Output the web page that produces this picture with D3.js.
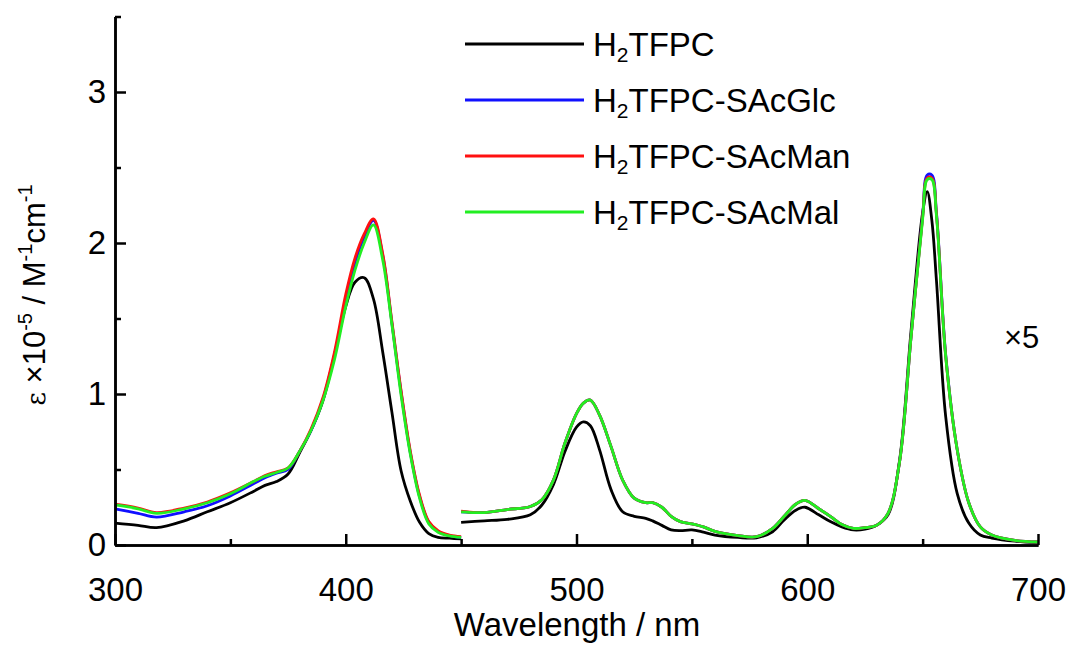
<!DOCTYPE html>
<html>
<head>
<meta charset="utf-8">
<script src="https://cdn.jsdelivr.net/npm/d3@7"></script>
<style>
  html, body { margin: 0; padding: 0; background: #fff; }
  svg { display: block; font-family: "Liberation Sans", Arial, sans-serif; }
</style>
</head>
<body>
<svg id="chart" width="1067" height="646"></svg>
<script>
// ---- data (left segment: Soret region, as measured) ----
const wlLeft = [300,310,318,330,340,350,360,365,370,375,380,385,390,395,400,404,408,412,416,420,424,428,432,436,440,445,450];
const tfpcLeft   = [0.145,0.13,0.115,0.16,0.22,0.28,0.355,0.395,0.42,0.47,0.61,0.76,0.95,1.25,1.58,1.74,1.77,1.63,1.28,0.88,0.49,0.29,0.15,0.075,0.05,0.045,0.04];
const glcLeft    = [0.24,0.21,0.185,0.22,0.26,0.325,0.405,0.445,0.475,0.50,0.62,0.76,0.96,1.25,1.62,1.87,2.04,2.15,1.92,1.47,1.01,0.61,0.32,0.15,0.09,0.062,0.05];
const manLeft    = [0.27,0.245,0.215,0.245,0.285,0.345,0.42,0.46,0.485,0.51,0.62,0.77,0.97,1.27,1.66,1.90,2.06,2.16,1.93,1.48,1.02,0.62,0.33,0.155,0.095,0.065,0.055];
const malLeft    = [0.265,0.24,0.21,0.24,0.28,0.34,0.42,0.455,0.48,0.51,0.62,0.76,0.95,1.22,1.58,1.82,2.00,2.12,1.89,1.46,0.99,0.60,0.31,0.14,0.085,0.06,0.05];

// ---- data (right segment: Q-band region, displayed x5) ----
const wlRight = [450,460,470,480,485,490,495,500,503,506,510,515,520,525,530,533,537,541,545,550,555,560,570,578,585,590,595,599,605,610,615,620,625,630,635,640,645,650,652,654,656,660,665,670,675,680,690,700];
const tfpcRight = [0.15,0.16,0.17,0.20,0.265,0.40,0.62,0.78,0.815,0.79,0.63,0.365,0.22,0.19,0.177,0.16,0.13,0.10,0.095,0.10,0.085,0.066,0.05,0.048,0.088,0.166,0.23,0.25,0.20,0.155,0.12,0.10,0.105,0.13,0.20,0.56,1.42,2.20,2.34,2.15,1.75,0.85,0.34,0.145,0.066,0.046,0.025,0.015];
const glcRight  = [0.22,0.215,0.235,0.255,0.30,0.43,0.675,0.87,0.94,0.96,0.86,0.65,0.43,0.31,0.28,0.28,0.25,0.19,0.155,0.14,0.12,0.09,0.062,0.055,0.11,0.19,0.27,0.295,0.24,0.19,0.135,0.11,0.115,0.13,0.21,0.55,1.38,2.18,2.45,2.45,2.20,1.26,0.63,0.28,0.12,0.066,0.03,0.02];
const manRight  = [0.225,0.215,0.235,0.255,0.30,0.43,0.675,0.87,0.94,0.96,0.86,0.65,0.43,0.31,0.28,0.28,0.25,0.19,0.155,0.14,0.12,0.09,0.062,0.055,0.11,0.19,0.27,0.295,0.24,0.19,0.135,0.11,0.115,0.13,0.21,0.55,1.38,2.17,2.43,2.43,2.19,1.25,0.63,0.28,0.12,0.066,0.03,0.02];
const malRight  = [0.22,0.215,0.235,0.255,0.30,0.43,0.675,0.87,0.94,0.96,0.86,0.65,0.43,0.31,0.28,0.28,0.25,0.19,0.155,0.14,0.12,0.09,0.062,0.055,0.11,0.19,0.27,0.295,0.24,0.19,0.135,0.11,0.115,0.13,0.21,0.55,1.38,2.16,2.42,2.42,2.18,1.25,0.63,0.28,0.12,0.066,0.03,0.02];

const seriesNames  = ["H2TFPC","H2TFPC-SAcGlc","H2TFPC-SAcMan","H2TFPC-SAcMal"];
const seriesSuffix = ["", "-SAcGlc", "-SAcMan", "-SAcMal"];
const seriesColors = ["#000000","#1010ff","#ff1010","#22ee22"];
const leftValues  = [tfpcLeft, glcLeft, manLeft, malLeft];
const rightValues = [tfpcRight, glcRight, manRight, malRight];

const xMajorTicks = [300,400,500,600,700];
const xMinorTicks = [350,450,550,650];
const yMajorTicks = [0,1,2,3];
const yMinorTicks = [0.5,1.5,2.5,3.5];
const scaleNote = "×5";

// ---- layout ----
const svg = d3.select("#chart");
const margin = {left:115, right:1038, top:16.5, bottom:545};
const x = d3.scaleLinear().domain([300,700]).range([margin.left, margin.right]);
const y = d3.scaleLinear().domain([0,3.5]).range([margin.bottom, margin.top]);

const line = d3.line().x(d => x(d[0])).y(d => y(d[1])).curve(d3.curveCatmullRom.alpha(0.5));

// curves
const g = svg.append("g");
seriesNames.forEach((name, i) => {
  [[wlLeft, leftValues[i]], [wlRight, rightValues[i]]].forEach(([wl, vals]) => {
    g.append("path")
      .datum(wl.map((w, k) => [w, vals[k]]))
      .attr("fill", "none")
      .attr("stroke", seriesColors[i])
      .attr("stroke-width", 2.8)
      .attr("stroke-linejoin", "round")
      .attr("d", line);
  });
});

// axes
const fs = 33;
const xAxisMinor = d3.axisBottom(x).tickValues(xMinorTicks).tickSize(-6).tickSizeOuter(0).tickFormat("");
const xAxisMajor = d3.axisBottom(x).tickValues(xMajorTicks).tickSize(-11).tickSizeOuter(0).tickPadding(33).tickFormat(d3.format("d"));
const yAxisMinor = d3.axisLeft(y).tickValues(yMinorTicks).tickSize(-6).tickSizeOuter(0).tickFormat("");
const yAxisMajor = d3.axisLeft(y).tickValues(yMajorTicks).tickSize(-11).tickSizeOuter(0).tickPadding(9).tickFormat(d3.format("d"));

function styleAxis(sel) {
  sel.selectAll("path").attr("stroke", "#000").attr("stroke-width", 2.5);
  sel.selectAll("line").attr("stroke", "#000").attr("stroke-width", 2.5);
  sel.selectAll("text").attr("font-size", fs).attr("font-family", "Liberation Sans, Arial, sans-serif").attr("fill", "#000");
}
svg.append("g").attr("transform", `translate(0,${margin.bottom})`).call(xAxisMinor).call(styleAxis);
svg.append("g").attr("transform", `translate(0,${margin.bottom})`).call(xAxisMajor).call(styleAxis);
svg.append("g").attr("transform", `translate(${margin.left},0)`).call(yAxisMinor).call(styleAxis);
svg.append("g").attr("transform", `translate(${margin.left},0)`).call(yAxisMajor).call(styleAxis);

// x axis title
svg.append("text")
  .attr("x", 577).attr("y", 636)
  .attr("text-anchor", "middle")
  .attr("font-size", fs)
  .text("Wavelength / nm");

// y axis title
const yt = svg.append("text")
  .attr("transform", "translate(45,295) rotate(-90)")
  .attr("text-anchor", "middle")
  .attr("font-size", 31);
yt.append("tspan").attr("font-size", 26).attr("font-family", "DejaVu Serif, serif").text("ε");
yt.append("tspan").text(" ×10");
yt.append("tspan").attr("font-size", 20).attr("dy", -13).text("-5");
yt.append("tspan").attr("dy", 13).text(" / M");
yt.append("tspan").attr("font-size", 20).attr("dy", -13).text("-1");
yt.append("tspan").attr("dy", 13).text("cm");
yt.append("tspan").attr("font-size", 20).attr("dy", -13).text("-1");

// x5 note
svg.append("text").attr("x", 1004).attr("y", 348).attr("font-size", 31).text(scaleNote);

// legend
const legRows = [44, 100, 156, 212];
seriesNames.forEach((name, i) => {
  const ry = legRows[i];
  svg.append("line")
    .attr("x1", 465).attr("x2", 584).attr("y1", ry).attr("y2", ry)
    .attr("stroke", seriesColors[i]).attr("stroke-width", 3);
  const t = svg.append("text").attr("x", 593).attr("y", ry + 12).attr("font-size", fs);
  t.append("tspan").text("H");
  t.append("tspan").attr("font-size", 21).attr("dy", 6).text("2");
  t.append("tspan").attr("dy", -6).text("TFPC" + seriesSuffix[i]);
});
</script>
</body>
</html>
